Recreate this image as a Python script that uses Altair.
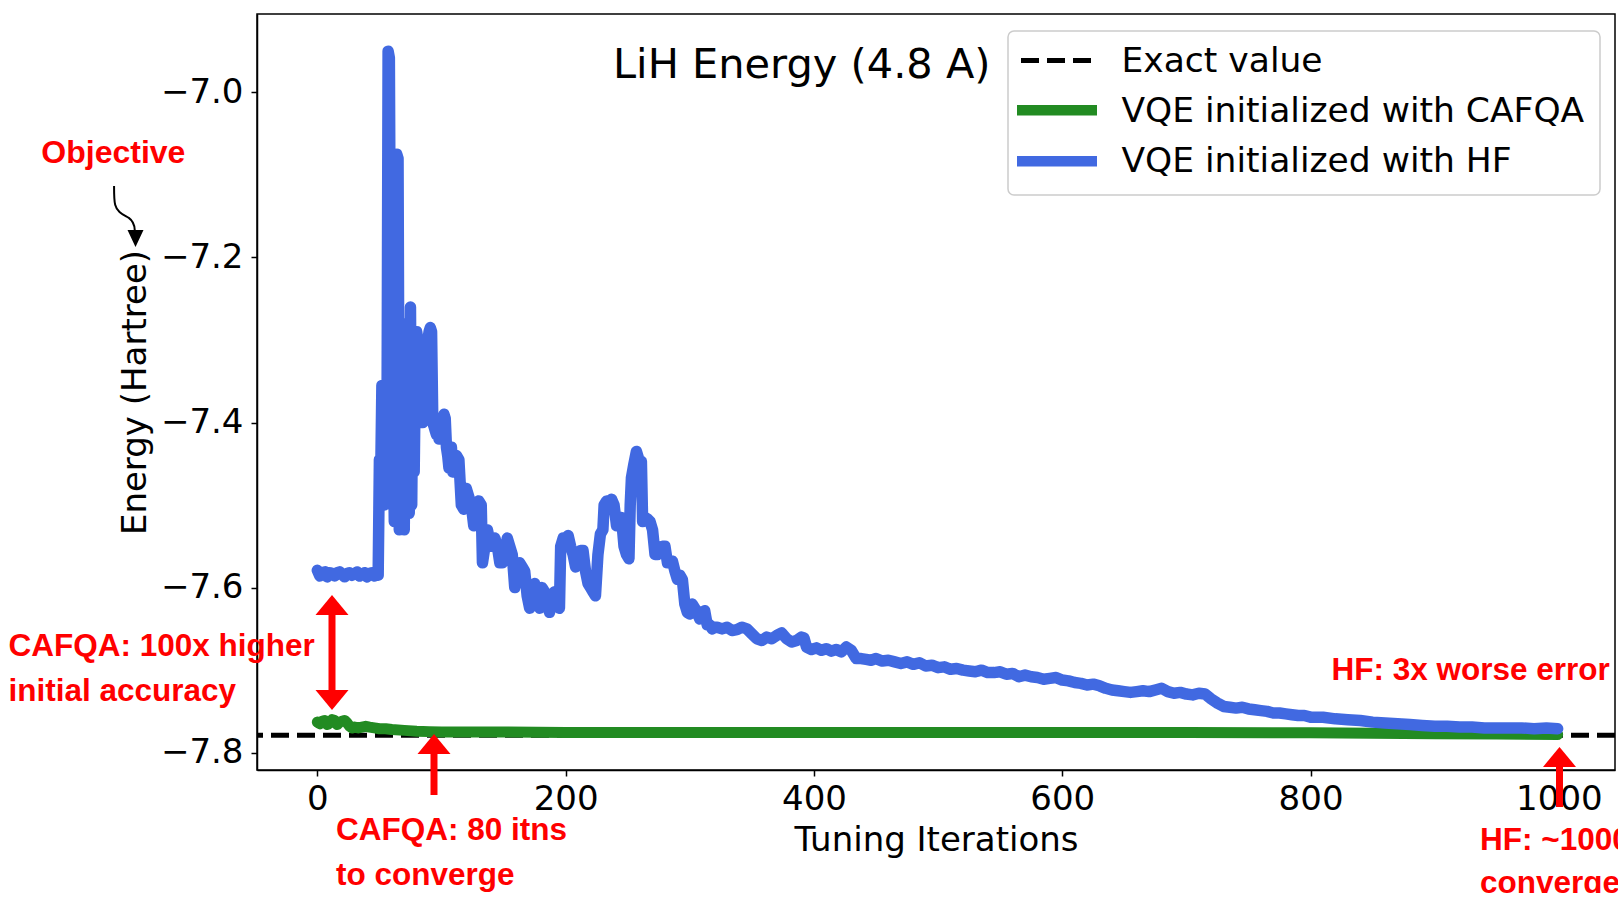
import altair as alt
import pandas as pd

# ---------------- data ----------------
EXACT_VALUE = -7.779

hf_iter = [0, 2, 4, 6, 8, 10, 12, 14, 16, 18, 20, 22, 24, 26, 28, 30, 32, 34, 36, 38, 40, 42, 44, 46, 48, 49,
           50, 51, 52, 53, 54, 55, 56, 57, 58, 59, 60, 61, 62, 63, 64, 65, 66, 67, 68, 69, 70, 71, 72, 73, 74,
           75, 76, 77, 78, 79, 80, 81, 82, 83, 84, 85, 86, 87, 88, 89, 90, 91, 92, 93, 94, 95, 96, 97, 98, 99,
           100, 101, 102, 103, 104, 105, 106, 107, 108, 109, 110, 112, 114, 116, 118, 120, 122, 124, 126, 128,
           130, 132, 133, 135, 137, 139, 141, 143, 145, 147, 149, 151, 153, 155, 157, 159, 161, 163, 165, 167,
           169, 171, 173, 175, 177, 179, 181, 183, 185, 187, 189, 191, 193, 195, 196, 198, 200, 202, 204, 206,
           208, 210, 212, 214, 216, 218, 220, 222, 224, 226, 228, 230, 231, 233, 235, 237, 239, 241, 243, 245,
           247, 249, 251, 252, 253, 255, 257, 259, 261, 262, 264, 266, 268, 270, 272, 274, 276, 278, 280, 282,
           284, 286, 288, 290, 292, 294, 296, 298, 300, 302, 304, 306, 308, 310, 312, 314, 316, 318, 320,
           322, 326, 330, 334, 338, 342, 346, 350, 354, 358, 362, 366, 370, 374, 378, 382, 386, 390, 392, 394,
           398, 402, 406, 410, 414, 418, 422, 426, 430, 434, 438, 442, 446, 450, 455, 460, 465, 470, 475, 480,
           485, 490, 495, 500, 505, 510, 515, 520, 525, 530, 535, 540, 545, 550, 555, 560, 565, 570, 575, 580,
           585, 590, 595, 600, 605, 610, 615, 620, 625, 630, 635, 640, 645, 650, 655, 660, 665, 670, 675, 680,
           685, 690, 695, 700, 705, 710, 715, 720, 725, 730, 735, 740, 745, 750, 755, 760, 765, 770, 775, 780,
           785, 790, 795, 800, 810, 820, 830, 840, 850, 860, 870, 880, 890, 900, 910, 920, 930, 940, 950, 960,
           970, 980, 990, 999]

hf_energy = [-7.579, -7.586, -7.582, -7.581, -7.587, -7.582, -7.583, -7.586, -7.582, -7.581, -7.584, -7.587,
             -7.583, -7.582, -7.585, -7.583, -7.581, -7.586, -7.584, -7.582, -7.587, -7.583, -7.582, -7.586,
             -7.584, -7.585,
             -7.445, -7.470, -7.355, -7.420, -7.500, -7.370, -7.480, -6.950, -6.958, -7.300, -7.500, -7.400,
             -7.520, -7.350, -7.075, -7.080, -7.530, -7.320, -7.520, -7.280, -7.530, -7.300, -7.490, -7.310,
             -7.510, -7.260, -7.500, -7.320, -7.460, -7.330, -7.290, -7.300, -7.370, -7.390, -7.400, -7.400,
             -7.380, -7.360, -7.320, -7.300, -7.290, -7.285, -7.290, -7.400, -7.405, -7.410, -7.415, -7.410,
             -7.420, -7.415, -7.410, -7.400, -7.390, -7.395, -7.430, -7.440, -7.455, -7.440, -7.430, -7.460,
             -7.450, -7.440, -7.445, -7.500, -7.505, -7.480, -7.490, -7.500, -7.525, -7.500,
             -7.495, -7.500, -7.570, -7.550, -7.530, -7.545, -7.550, -7.540, -7.550, -7.570, -7.570, -7.560,
             -7.540, -7.550, -7.560, -7.600, -7.580, -7.570, -7.575, -7.580,
             -7.610, -7.625, -7.600, -7.595, -7.610, -7.625, -7.600, -7.605, -7.615, -7.630, -7.610, -7.605,
             -7.620, -7.625, -7.550, -7.540, -7.540, -7.537, -7.550, -7.560,
             -7.575, -7.560, -7.555, -7.555, -7.580, -7.595, -7.600, -7.605, -7.610, -7.560, -7.535, -7.530,
             -7.500, -7.495, -7.495, -7.493, -7.500, -7.525, -7.515, -7.515,
             -7.550, -7.560, -7.565, -7.500, -7.467, -7.450, -7.435, -7.445, -7.447, -7.520, -7.515, -7.517,
             -7.520, -7.530, -7.560, -7.560, -7.555, -7.550, -7.550, -7.570,
             -7.570, -7.568, -7.580, -7.590, -7.585, -7.590, -7.620, -7.630, -7.632, -7.620, -7.625, -7.630,
             -7.638, -7.630, -7.628, -7.645, -7.645, -7.650, -7.648,
             -7.648, -7.650, -7.648, -7.652, -7.651, -7.648, -7.650, -7.656, -7.662, -7.664, -7.660, -7.662,
             -7.658, -7.655, -7.662, -7.666, -7.664, -7.660, -7.661, -7.672,
             -7.675, -7.673, -7.676, -7.674, -7.677, -7.675, -7.678, -7.672, -7.676, -7.686, -7.686, -7.687,
             -7.688, -7.686, -7.689, -7.688, -7.690, -7.692, -7.690, -7.693,
             -7.691, -7.695, -7.694, -7.697, -7.696, -7.699, -7.698, -7.700, -7.701, -7.702, -7.700, -7.703,
             -7.703, -7.702, -7.705, -7.704, -7.708, -7.706, -7.708, -7.709,
             -7.711, -7.710, -7.709, -7.712, -7.713, -7.715, -7.716, -7.718, -7.717, -7.719, -7.722, -7.724,
             -7.725, -7.726, -7.727, -7.726, -7.725, -7.726, -7.724, -7.722,
             -7.726, -7.728, -7.727, -7.729, -7.730, -7.728, -7.729, -7.735, -7.740, -7.744, -7.745, -7.746,
             -7.745, -7.747, -7.748, -7.749, -7.750, -7.752, -7.752, -7.753,
             -7.754, -7.755, -7.755, -7.757, -7.757, -7.759, -7.760, -7.761, -7.763, -7.764, -7.765, -7.766,
             -7.767, -7.768, -7.768, -7.769, -7.769, -7.770, -7.770, -7.770,
             -7.770, -7.771, -7.770, -7.771]

cafqa_iter = [0, 2, 4, 6, 8, 10, 12, 14, 16, 18, 20, 22, 24, 26, 28, 30, 33, 36, 39, 42, 46, 50, 55, 60, 70,
              80, 90, 100, 120, 150, 200, 300, 400, 500, 600, 700, 800, 850, 900, 950, 999]
cafqa_energy = [-7.763, -7.765, -7.762, -7.761, -7.766, -7.764, -7.760, -7.761, -7.766, -7.763, -7.762,
                -7.761, -7.764, -7.768, -7.770, -7.769, -7.770, -7.769, -7.768, -7.769, -7.770, -7.771,
                -7.771, -7.772, -7.773, -7.774, -7.7745, -7.775, -7.775, -7.775, -7.7755, -7.7755, -7.7755,
                -7.7755, -7.7755, -7.7755, -7.776, -7.7765, -7.777, -7.7775, -7.778]

x_ticks = [0, 200, 400, 600, 800, 1000]
y_ticks = [-7.8, -7.6, -7.4, -7.2, -7.0]
x_domain = [-48.6, 1045.2]
y_domain = [-7.821, -6.905]

legend_labels = ["Exact value", "VQE initialized with CAFQA", "VQE initialized with HF"]

# ---------------- layout / styles ----------------
PLOT_W, PLOT_H = 1358, 756
FONT = "DejaVu Sans"
RED_FONT = "Liberation Sans"
BLUE = "#4169E1"
GREEN = "#228B22"
RED = "#FF0000"

hf_df = pd.DataFrame({"iteration": hf_iter, "energy": hf_energy})
cafqa_df = pd.DataFrame({"iteration": cafqa_iter, "energy": cafqa_energy})
exact_df = pd.DataFrame({"energy": [EXACT_VALUE]})
dummy = pd.DataFrame({"a": [0]})

x_enc = alt.X("iteration:Q",
              scale=alt.Scale(domain=x_domain, nice=False, zero=False),
              axis=alt.Axis(values=x_ticks, format="d", title="Tuning Iterations",
                            labelPadding=6, titleY=80, titleBaseline="alphabetic",
                            labelFlush=False, labelOverlap=False))
y_enc = alt.Y("energy:Q",
              scale=alt.Scale(domain=y_domain, nice=False, zero=False),
              axis=alt.Axis(values=y_ticks, format=".1f", title="Energy (Hartree)",
                            labelPadding=8, titleAngle=270, titleX=-111.7, titleY=378,
                            titleAlign="center", titleBaseline="alphabetic",
                            labelFlush=False, labelOverlap=False))

exact_rule = alt.Chart(exact_df).mark_rule(color="black", strokeWidth=5, strokeDash=[18, 8]).encode(y=y_enc)
cafqa_line = alt.Chart(cafqa_df).mark_line(color=GREEN, strokeWidth=11, strokeCap="round",
                                           strokeJoin="round").encode(x=x_enc, y=y_enc)
hf_line = alt.Chart(hf_df).mark_line(color=BLUE, strokeWidth=11.5, strokeCap="round",
                                     strokeJoin="round").encode(x=x_enc, y=y_enc)


def text(txt, x, y, size, color="black", weight="normal", font=FONT, align="left"):
    return alt.Chart(dummy).mark_text(text=txt, align=align, baseline="alphabetic", fontSize=size,
                                      font=font, fontWeight=weight, color=color).encode(
        x=alt.value(x), y=alt.value(y))


def vrule(x, y, y2, color=RED, width=7):
    return alt.Chart(dummy).mark_rule(color=color, strokeWidth=width).encode(
        x=alt.value(x), y=alt.value(y), y2=alt.value(y2))


UP = "M-1,0.6L0,-0.6L1,0.6Z"
DOWN = "M-1,-0.6L0,0.6L1,-0.6Z"


def head(x, y, shape, size=1089, color=RED):
    return alt.Chart(dummy).mark_point(shape=shape, size=size, filled=True, color=color, opacity=1,
                                       strokeWidth=0).encode(x=alt.value(x), y=alt.value(y))


# legend (drawn by hand)
legend_box = alt.Chart(dummy).mark_rect(cornerRadius=6, fill="white", fillOpacity=0.8, stroke="#cccccc",
                                        strokeWidth=1.5).encode(
    x=alt.value(751), x2=alt.value(1343), y=alt.value(17), y2=alt.value(181))
leg_exact = alt.Chart(dummy).mark_rule(color="black", strokeWidth=5, strokeDash=[18, 8]).encode(
    x=alt.value(764), x2=alt.value(840), y=alt.value(46.5))
leg_cafqa = alt.Chart(dummy).mark_rule(color=GREEN, strokeWidth=10.5).encode(
    x=alt.value(760), x2=alt.value(840), y=alt.value(96.3))
leg_hf = alt.Chart(dummy).mark_rule(color=BLUE, strokeWidth=10.5).encode(
    x=alt.value(760), x2=alt.value(840), y=alt.value(147.3))
leg_texts = [text(legend_labels[0], 864.5, 57.7, 34.5),
             text(legend_labels[1], 864.5, 107.5, 34.5),
             text(legend_labels[2], 864.5, 158, 34.5)]

title = text("LiH Energy (4.8 A)", 356, 64, 41.5)

# red call-outs
red_texts = [
    text("Objective", -215.7, 149.2, 32, RED, "bold", RED_FONT),
    text("CAFQA: 100x higher", -248.6, 642, 31.5, RED, "bold", RED_FONT),
    text("initial accuracy", -248.6, 687, 31.5, RED, "bold", RED_FONT),
    text("CAFQA: 80 itns", 79, 826, 31.5, RED, "bold", RED_FONT),
    text("to converge", 79, 871, 31.5, RED, "bold", RED_FONT),
    text("HF: 3x worse error", 1074.5, 666, 31.5, RED, "bold", RED_FONT),
    text("HF: ~1000 itns to", 1223, 836, 31.5, RED, "bold", RED_FONT),
    text("converge", 1223, 879, 31.5, RED, "bold", RED_FONT),
]
arrows = [
    vrule(75, 597, 680), head(75, 591, UP), head(75, 686, DOWN),
    vrule(177, 736, 781), head(177, 730, UP),
    vrule(1302.5, 749, 793), head(1302.5, 743, UP),
]

# curly black arrow under "Objective"
curl = alt.Chart(dummy).mark_point(
    shape="M-0.47,-1 C-0.47,-0.6 -0.46,-0.3 -0.42,-0.15 C-0.33,0.2 -0.05,0.3 0.2,0.45 C0.38,0.58 0.46,0.75 0.47,1",
    size=1936, filled=False, color="black", strokeWidth=2, opacity=1).encode(
    x=alt.value(-132.6), y=alt.value(194))
curl_head = head(-121.5, 224.6, "M-1,-1.06L0,1.06L1,-1.06Z", size=256, color="black")

chart = alt.layer(
    exact_rule, cafqa_line, hf_line,
    legend_box, leg_exact, leg_cafqa, leg_hf, *leg_texts, title,
    *arrows, *red_texts, curl, curl_head,
).properties(
    width=PLOT_W, height=PLOT_H,
    autosize=alt.AutoSizeParams(type="none"),
    padding={"left": 257, "top": 14, "right": 3, "bottom": 123},
    background="white",
).configure_view(
    stroke="black", strokeWidth=1.5
).configure_axis(
    grid=False, labelFont=FONT, titleFont=FONT, labelFontSize=34, titleFontSize=34,
    titleFontWeight="normal", labelColor="black", titleColor="black", domainColor="black",
    tickColor="black", domainWidth=1.5, tickWidth=1.5, tickSize=6,
)

chart.save("out.html", embed_options={"renderer": "svg", "actions": False})
